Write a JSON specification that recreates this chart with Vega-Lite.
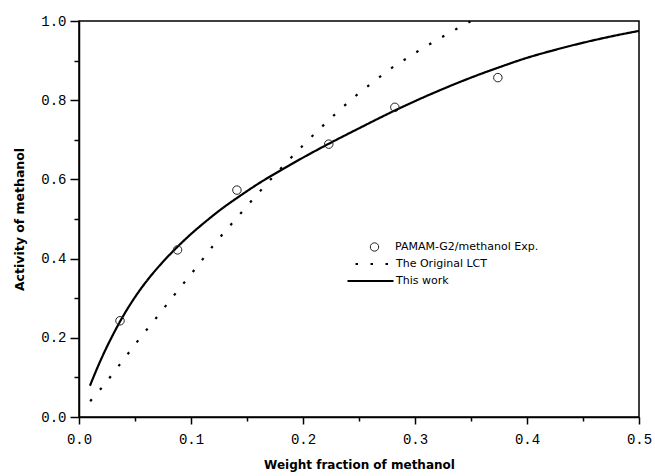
{
  "$schema": "https://vega.github.io/schema/vega-lite/v6.json",
  "width": 560,
  "height": 396,
  "autosize": {"type": "none"},
  "padding": {"left": 79, "top": 21, "right": 16, "bottom": 59},
  "background": "white",
  "config": {
    "view": {"stroke": "black", "strokeWidth": 1.5},
    "axis": {
      "grid": false,
      "domainColor": "black",
      "domainWidth": 1.5,
      "tickColor": "black",
      "tickWidth": 1.5,
      "labelFont": "Liberation Mono",
      "labelFontSize": 14,
      "labelColor": "black",
      "labelFlush": false,
      "labelOverlap": false,
      "titleFont": "DejaVu Sans",
      "titleFontWeight": "bold",
      "titleFontSize": 12,
      "titleColor": "black"
    },
    "legend": {
      "labelFont": "DejaVu Sans",
      "labelFontSize": 11,
      "labelColor": "black",
      "padding": 0,
      "clipHeight": 12,
      "rowPadding": 5
    }
  },
  "datasets": {
    "exp": [
      {"series": "PAMAM-G2/methanol Exp.", "w": 0.0366, "a": 0.243},
      {"series": "PAMAM-G2/methanol Exp.", "w": 0.088, "a": 0.422},
      {"series": "PAMAM-G2/methanol Exp.", "w": 0.141, "a": 0.573},
      {"series": "PAMAM-G2/methanol Exp.", "w": 0.223, "a": 0.689},
      {"series": "PAMAM-G2/methanol Exp.", "w": 0.282, "a": 0.782},
      {"series": "PAMAM-G2/methanol Exp.", "w": 0.374, "a": 0.857}
    ],
    "curves": [
      {"model": "The Original LCT", "w": 0.010, "a": 0.040},
      {"model": "The Original LCT", "w": 0.020, "a": 0.073},
      {"model": "The Original LCT", "w": 0.036, "a": 0.131},
      {"model": "The Original LCT", "w": 0.053, "a": 0.194},
      {"model": "The Original LCT", "w": 0.070, "a": 0.254},
      {"model": "The Original LCT", "w": 0.087, "a": 0.315},
      {"model": "The Original LCT", "w": 0.104, "a": 0.375},
      {"model": "The Original LCT", "w": 0.121, "a": 0.437},
      {"model": "The Original LCT", "w": 0.140, "a": 0.500},
      {"model": "The Original LCT", "w": 0.160, "a": 0.565},
      {"model": "The Original LCT", "w": 0.180, "a": 0.627},
      {"model": "The Original LCT", "w": 0.200, "a": 0.686},
      {"model": "The Original LCT", "w": 0.215, "a": 0.728},
      {"model": "The Original LCT", "w": 0.230, "a": 0.768},
      {"model": "The Original LCT", "w": 0.245, "a": 0.806},
      {"model": "The Original LCT", "w": 0.260, "a": 0.840},
      {"model": "The Original LCT", "w": 0.272, "a": 0.866},
      {"model": "The Original LCT", "w": 0.283, "a": 0.889},
      {"model": "The Original LCT", "w": 0.294, "a": 0.908},
      {"model": "The Original LCT", "w": 0.305, "a": 0.928},
      {"model": "The Original LCT", "w": 0.316, "a": 0.946},
      {"model": "The Original LCT", "w": 0.327, "a": 0.964},
      {"model": "The Original LCT", "w": 0.337, "a": 0.980},
      {"model": "The Original LCT", "w": 0.350, "a": 1.000},
      {"model": "This work", "w": 0.0098, "a": 0.079},
      {"model": "This work", "w": 0.015, "a": 0.115},
      {"model": "This work", "w": 0.023, "a": 0.166},
      {"model": "This work", "w": 0.030, "a": 0.206},
      {"model": "This work", "w": 0.0366, "a": 0.241},
      {"model": "This work", "w": 0.045, "a": 0.281},
      {"model": "This work", "w": 0.054, "a": 0.319},
      {"model": "This work", "w": 0.062, "a": 0.349},
      {"model": "This work", "w": 0.075, "a": 0.392},
      {"model": "This work", "w": 0.088, "a": 0.430},
      {"model": "This work", "w": 0.100, "a": 0.462},
      {"model": "This work", "w": 0.115, "a": 0.498},
      {"model": "This work", "w": 0.128, "a": 0.527},
      {"model": "This work", "w": 0.141, "a": 0.553},
      {"model": "This work", "w": 0.160, "a": 0.589},
      {"model": "This work", "w": 0.182, "a": 0.626},
      {"model": "This work", "w": 0.200, "a": 0.655},
      {"model": "This work", "w": 0.223, "a": 0.690},
      {"model": "This work", "w": 0.250, "a": 0.729},
      {"model": "This work", "w": 0.282, "a": 0.774},
      {"model": "This work", "w": 0.305, "a": 0.804},
      {"model": "This work", "w": 0.328, "a": 0.832},
      {"model": "This work", "w": 0.350, "a": 0.857},
      {"model": "This work", "w": 0.375, "a": 0.883},
      {"model": "This work", "w": 0.400, "a": 0.907},
      {"model": "This work", "w": 0.425, "a": 0.927},
      {"model": "This work", "w": 0.447, "a": 0.943},
      {"model": "This work", "w": 0.475, "a": 0.961},
      {"model": "This work", "w": 0.500, "a": 0.975}
    ]
  },
  "encoding": {
    "x": {
      "field": "w",
      "type": "quantitative",
      "scale": {"domain": [0, 0.5], "nice": false, "zero": false},
      "axis": {
        "title": "Weight fraction of methanol",
        "values": [0, 0.05, 0.1, 0.15, 0.2, 0.25, 0.3, 0.35, 0.4, 0.45, 0.5],
        "labelExpr": "round(datum.value * 100) % 10 === 0 ? format(datum.value, '.1f') : ''",
        "tickSize": {"condition": {"test": "round(datum.value * 100) % 10 === 0", "value": 7}, "value": 4},
        "labelPadding": 8,
        "titlePadding": 13
      }
    },
    "y": {
      "field": "a",
      "type": "quantitative",
      "scale": {"domain": [0, 1], "nice": false},
      "axis": {
        "title": "Activity of methanol",
        "values": [0, 0.1, 0.2, 0.3, 0.4, 0.5, 0.6, 0.7, 0.8, 0.9, 1.0],
        "labelExpr": "round(datum.value * 10) % 2 === 0 ? format(datum.value, '.1f') : ''",
        "tickSize": {"condition": {"test": "round(datum.value * 10) % 2 === 0", "value": 9}, "value": 5},
        "labelPadding": 4,
        "titlePadding": 14,
        "titleFontSize": 12.5
      }
    }
  },
  "layer": [
    {
      "data": {"name": "curves"},
      "mark": {"type": "line", "color": "black", "strokeWidth": 2.2, "interpolate": "monotone", "clip": true},
      "encoding": {
        "strokeDash": {
          "field": "model",
          "type": "nominal",
          "scale": {"domain": ["The Original LCT", "This work"], "range": [[2.5, 12.5], [1, 0]]},
          "legend": {
            "title": null,
            "orient": "none",
            "legendX": 267,
            "legendY": 237,
            "symbolType": "stroke",
            "symbolSize": 2116,
            "symbolStrokeWidth": 2.2,
            "symbolStrokeColor": "black",
            "symbolDashOffset": -8,
            "labelOffset": 1
          }
        }
      }
    },
    {
      "data": {"name": "exp"},
      "mark": {"type": "point", "shape": "circle", "filled": false, "color": "#222", "strokeWidth": 1, "size": 72, "opacity": 1},
      "encoding": {
        "shape": {
          "field": "series",
          "type": "nominal",
          "scale": {"range": ["circle"]},
          "legend": {
            "title": null,
            "orient": "none",
            "legendX": 290,
            "legendY": 220,
            "symbolSize": 70,
            "symbolFillColor": "transparent",
            "symbolStrokeColor": "#222",
            "symbolStrokeWidth": 1,
            "labelOffset": 15
          }
        }
      }
    }
  ]
}
